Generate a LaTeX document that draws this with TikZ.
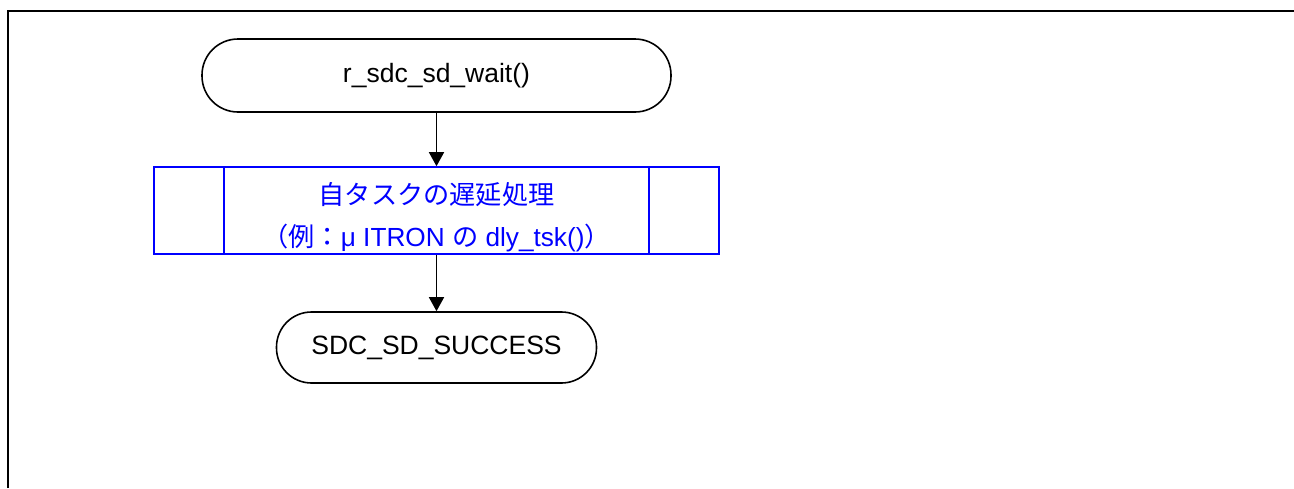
\documentclass[tikz,border=0pt]{standalone}
\usepackage{fontspec}
\setmainfont{Liberation Sans}
\newfontfamily\cjk{Noto Sans CJK JP}
\usetikzlibrary{arrows.meta}
\definecolor{pblue}{RGB}{0,0,255}
\begin{document}
\begin{tikzpicture}[x=1pt,y=-1pt,
  term/.style={draw=black,line width=1.6pt,rounded corners=36pt,inner sep=0pt,
    font=\fontsize{26.5}{31}\selectfont},
  procbox/.style={draw=pblue,line width=1.6pt,inner sep=0pt,minimum width=565pt,minimum height=87pt},
  ptext/.style={text=pblue,inner sep=0pt,font=\fontsize{26.2}{31}\selectfont},
  arr/.style={line width=1.6pt,-{Triangle[width=15pt,length=14pt]}},
  frameline/.style={line width=2pt,draw=black}]
\useasboundingbox (0,0) rectangle (1294,488);
\draw[frameline] (8,488) -- (8,10.5) -- (1294,10.5);
\node[term,minimum width=469pt,minimum height=73pt] (start) at (436.5,75.5) {r\_sdc\_sd\_wait()};
\node[procbox] (proc) at (436.5,210.5) {};
\draw[pblue,line width=1.6pt] ([xshift=71pt]proc.north west) -- ([xshift=71pt]proc.south west);
\draw[pblue,line width=1.6pt] ([xshift=-71pt]proc.north east) -- ([xshift=-71pt]proc.south east);
\node[ptext] (t1) at (436.5,195) {\cjk 自タスクの遅延処理};
\node[ptext] (t2) at (436.5,238) {{\cjk （例：}μ ITRON {\cjk の} dly\_tsk(){\cjk ）}};
\node[term,minimum width=320pt,minimum height=71pt,rounded corners=35pt] (end) at (436.5,347.5) {SDC\_SD\_SUCCESS};
\draw[arr] (start.south) -- (proc.north);
\draw[arr] (proc.south) -- (end.north);
\end{tikzpicture}
\end{document}
